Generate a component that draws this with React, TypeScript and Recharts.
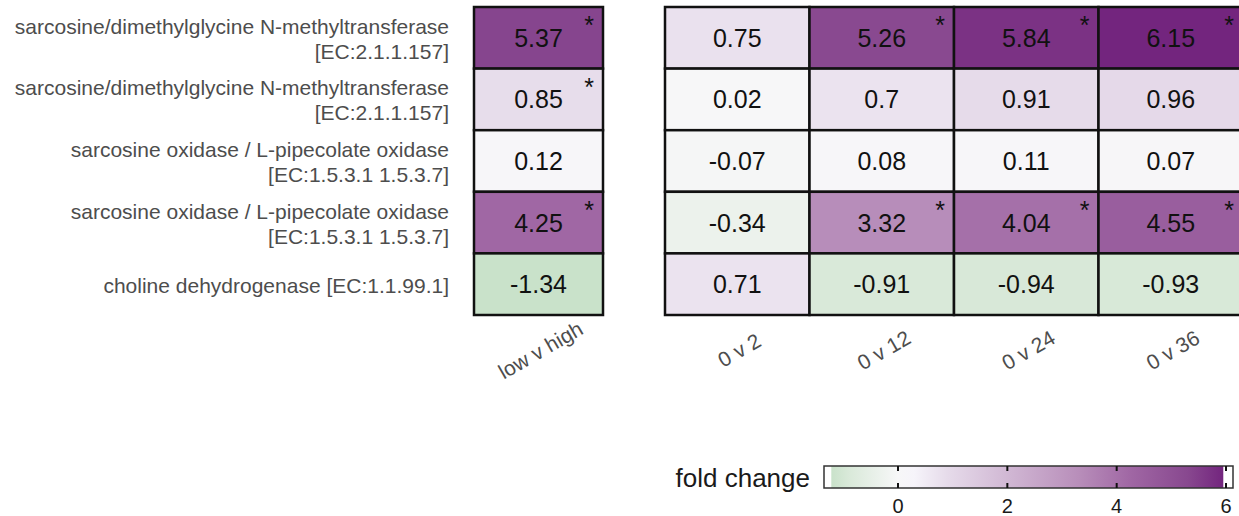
import React from 'react';
import { Scatter, ScatterChart, XAxis, YAxis } from 'recharts';

// Row labels (KEGG enzymes), split onto two lines where they wrap.
const geneLabels: string[][] = [
  ['sarcosine/dimethylglycine N-methyltransferase', '[EC:2.1.1.157]'],
  ['sarcosine/dimethylglycine N-methyltransferase', '[EC:2.1.1.157]'],
  ['sarcosine oxidase / L-pipecolate oxidase', '[EC:1.5.3.1 1.5.3.7]'],
  ['sarcosine oxidase / L-pipecolate oxidase', '[EC:1.5.3.1 1.5.3.7]'],
  ['choline dehydrogenase [EC:1.1.99.1]'],
];

const levelContrasts = ['low v high'];
const timeContrasts = ['0 v 2', '0 v 12', '0 v 24', '0 v 36'];

// log2 fold change per contrast, one entry per gene row
const lowVHigh = [5.37, 0.85, 0.12, 4.25, -1.34];
const t0v2 = [0.75, 0.02, -0.07, -0.34, 0.71];
const t0v12 = [5.26, 0.7, 0.08, 3.32, -0.91];
const t0v24 = [5.84, 0.91, 0.11, 4.04, -0.94];
const t0v36 = [6.15, 0.96, 0.07, 4.55, -0.93];

// significance flags (drawn as *)
const lowVHighSig = [true, true, false, true, false];
const t0v2Sig = [false, false, false, false, false];
const t0v12Sig = [true, false, false, true, false];
const t0v24Sig = [true, false, false, true, false];
const t0v36Sig = [true, false, false, true, false];

const legendTicks = [0, 2, 4, 6];

// green -> white -> purple ramp
const colorStops: [number, string][] = [
  [-1.34, '#c9e2ca'],
  [-0.9, '#d9e9d9'],
  [0, '#f7f7f8'],
  [0.3, '#f6f4fa'],
  [0.9, '#e6dbea'],
  [3.3, '#b88eba'],
  [4.25, '#a067a4'],
  [5.3, '#88488f'],
  [6.15, '#73257e'],
];

const FONT = '"Liberation Sans", Arial, sans-serif';
const ROWS = geneLabels.length;
const PLOT_TOP = 7;
const PLOT_BOTTOM = 315;
const CELL_H = (PLOT_BOTTOM - PLOT_TOP) / ROWS;

const hexToRgb = (h: string) => [1, 3, 5].map((i) => parseInt(h.slice(i, i + 2), 16));

function fillFor(v: number) {
  if (v <= colorStops[0][0]) return colorStops[0][1];
  for (let i = 1; i < colorStops.length; i++) {
    const [v1, c1] = colorStops[i];
    if (v <= v1) {
      const [v0, c0] = colorStops[i - 1];
      const t = (v - v0) / (v1 - v0);
      const a = hexToRgb(c0);
      const b = hexToRgb(c1);
      const mix = a.map((x, k) => Math.round(x + (b[k] - x) * t));
      return `rgb(${mix.join(',')})`;
    }
  }
  return colorStops[colorStops.length - 1][1];
}

type Cell = { x: number; y: number; value: number; sig: boolean };

const toCells = (cols: number[][], sigs: boolean[][]): Cell[] =>
  cols.flatMap((col, c) => col.map((value, r) => ({ x: c, y: r, value, sig: sigs[c][r] })));

const levelCells = toCells([lowVHigh], [lowVHighSig]);
const timeCells = toCells([t0v2, t0v12, t0v24, t0v36], [t0v2Sig, t0v12Sig, t0v24Sig, t0v36Sig]);

const makeCellShape = (cellW: number) => (props: any) => {
  const { cx, cy, payload } = props;
  return (
    <g>
      <rect
        x={cx - cellW / 2}
        y={cy - CELL_H / 2}
        width={cellW}
        height={CELL_H}
        fill={fillFor(payload.value)}
        stroke="#111"
        strokeWidth={2.5}
      />
      <text
        x={cx}
        y={cy}
        textAnchor="middle"
        dominantBaseline="central"
        fontSize={25}
        fontFamily={FONT}
        fill="#111"
      >
        {payload.value}
      </text>
      {payload.sig && (
        <text
          x={cx + cellW / 2 - 14}
          y={cy - CELL_H / 2 + 27}
          textAnchor="middle"
          fontSize={25}
          fontFamily={FONT}
          fill="#111"
        >
          *
        </text>
      )}
    </g>
  );
};

const GeneTick = (props: any) => {
  const { x, y, payload } = props;
  const lines = geneLabels[payload.value] ?? [];
  const start = y + 1 - ((lines.length - 1) * 25) / 2;
  return (
    <text x={x} y={start} textAnchor="end" fontSize={21} fontFamily={FONT} fill="#4d4d4d">
      {lines.map((line, i) => (
        <tspan key={i} x={x} y={start + i * 25} dominantBaseline="central">
          {line}
        </tspan>
      ))}
    </text>
  );
};

const makeContrastTick = (names: string[]) => (props: any) => {
  const { x, y, payload } = props;
  const ty = y + 35;
  return (
    <text
      x={x + 2}
      y={ty}
      textAnchor="middle"
      dominantBaseline="central"
      fontSize={21}
      fontFamily={FONT}
      fill="#4d4d4d"
      transform={`rotate(-30, ${x + 2}, ${ty})`}
    >
      {names[payload.value]}
    </text>
  );
};

const indexTicks = (n: number) => Array.from({ length: n }, (_, i) => i);

function FoldChangeLegend() {
  const x0 = 898; // position of 0
  const perUnit = 54.67;
  const sx = (v: number) => x0 + v * perUnit;
  const gradStart = sx(-1.22);
  const gradEnd = sx(5.95);
  return (
    <svg width={1239} height={70} style={{ position: 'absolute', left: 0, top: 446 }}>
      <defs>
        <linearGradient id="fcGrad" gradientUnits="userSpaceOnUse" x1={gradStart} x2={gradEnd} y1={0} y2={0}>
          {colorStops.map(([v, c]) => (
            <stop key={v} offset={(sx(v) - gradStart) / (gradEnd - gradStart)} stopColor={c} />
          ))}
        </linearGradient>
      </defs>
      <text x={810} y={32} textAnchor="end" dominantBaseline="central" fontSize={26} fontFamily={FONT} fill="#1a1a1a">
        fold change
      </text>
      <rect x={824} y={20} width={409} height={22} fill="#fff" />
      <rect x={gradStart} y={20} width={gradEnd - gradStart} height={22} fill="url(#fcGrad)" />
      <rect x={824} y={20} width={409} height={22} fill="none" stroke="#333" strokeWidth={1.5} />
      {legendTicks.map((t) => (
        <g key={t}>
          <line x1={sx(t)} x2={sx(t)} y1={20} y2={25} stroke="#111" strokeWidth={2} />
          <line x1={sx(t)} x2={sx(t)} y1={37} y2={42} stroke="#111" strokeWidth={2} />
          <text x={sx(t)} y={60} textAnchor="middle" dominantBaseline="central" fontSize={20} fontFamily={FONT} fill="#1a1a1a">
            {t}
          </text>
        </g>
      ))}
    </svg>
  );
}

export default function App() {
  return (
    <div
      style={{
        position: 'fixed',
        left: 0,
        top: 0,
        width: 1239,
        height: 516,
        overflow: 'hidden',
        background: '#fff',
      }}
    >
      <div style={{ position: 'absolute', left: 0, top: 0 }}>
        <ScatterChart width={620} height={400} margin={{ top: PLOT_TOP, right: 17, left: 10, bottom: 25 }}>
          <XAxis
            type="number"
            dataKey="x"
            domain={[-0.5, levelContrasts.length - 0.5]}
            ticks={indexTicks(levelContrasts.length)}
            interval={0}
            height={60}
            axisLine={false}
            tickLine={false}
            tickSize={0}
            tickMargin={0}
            tick={makeContrastTick(levelContrasts)}
          />
          <YAxis
            type="number"
            dataKey="y"
            domain={[-0.5, ROWS - 0.5]}
            ticks={indexTicks(ROWS)}
            interval={0}
            reversed
            width={464}
            axisLine={false}
            tickLine={false}
            tickSize={0}
            tickMargin={25}
            tick={<GeneTick />}
          />
          <Scatter data={levelCells} shape={makeCellShape(129)} isAnimationActive={false} />
        </ScatterChart>
      </div>
      <div style={{ position: 'absolute', left: 600, top: 0 }}>
        <ScatterChart width={660} height={400} margin={{ top: PLOT_TOP, right: 17, left: 65, bottom: 25 }}>
          <XAxis
            type="number"
            dataKey="x"
            domain={[-0.5, timeContrasts.length - 0.5]}
            ticks={indexTicks(timeContrasts.length)}
            interval={0}
            height={60}
            axisLine={false}
            tickLine={false}
            tickSize={0}
            tickMargin={0}
            tick={makeContrastTick(timeContrasts)}
          />
          <YAxis type="number" dataKey="y" domain={[-0.5, ROWS - 0.5]} reversed hide width={0} />
          <Scatter data={timeCells} shape={makeCellShape(144.5)} isAnimationActive={false} />
        </ScatterChart>
      </div>
      <FoldChangeLegend />
    </div>
  );
}
